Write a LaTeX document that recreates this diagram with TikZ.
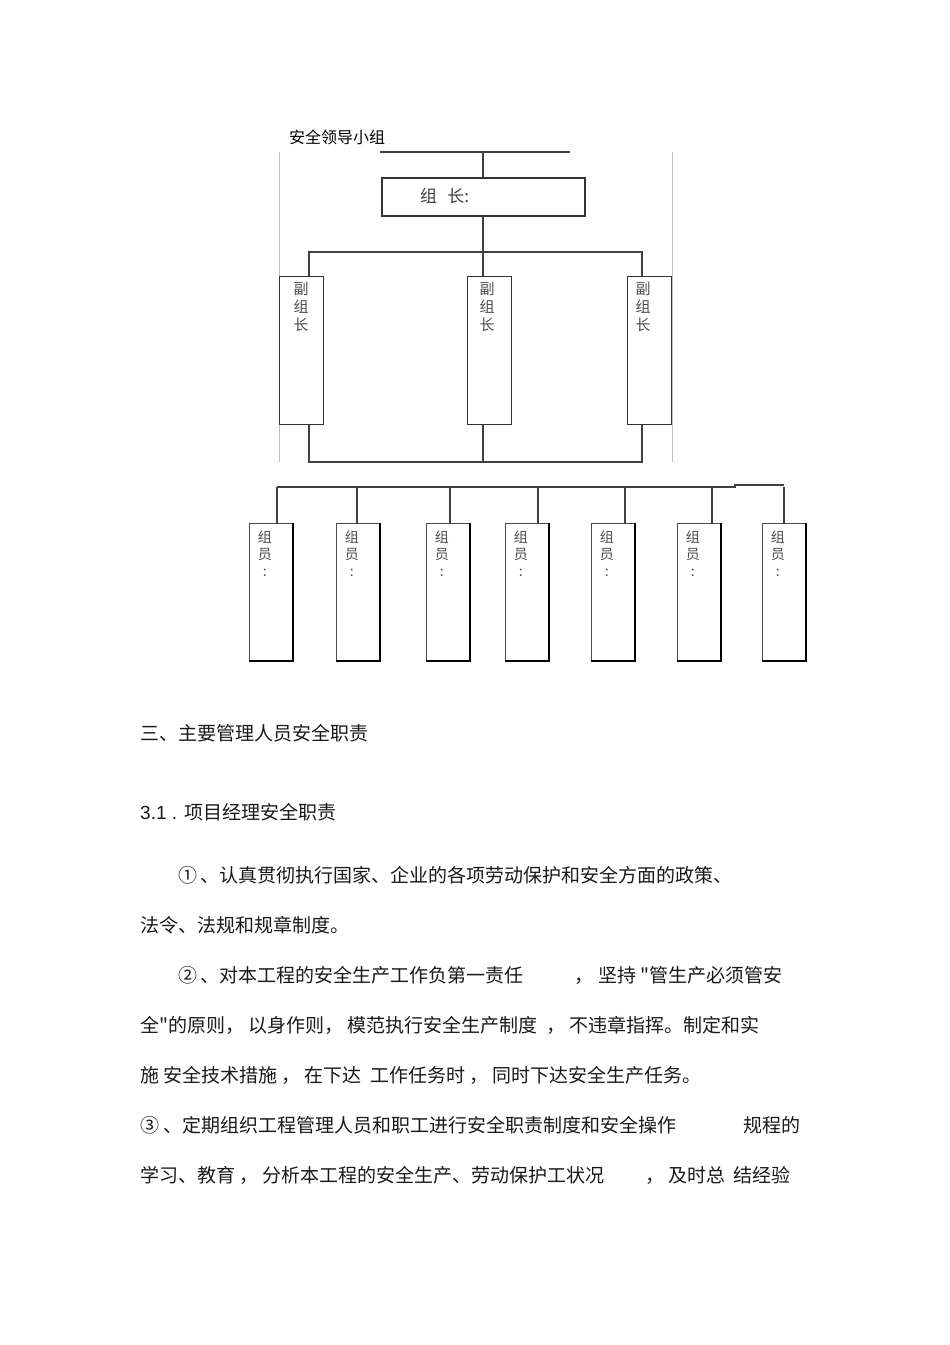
\documentclass[tikz,border=0pt]{standalone}
\usepackage{fontspec}
\setmainfont{Liberation Sans}
\newfontfamily\cjk{Noto Sans CJK SC}[Scale=1]
\begin{document}
\begin{tikzpicture}[x=1pt,y=-1pt,
  ln/.style={line width=1.2pt,black!75},
  frame/.style={line width=0.6pt,black!25},
  bx/.style={draw=black!80,line width=1pt},
  body/.style={anchor=base west,inner sep=0pt,font=\cjk\fontsize{19}{19}\selectfont,text=black!90},
  vlab/.style={anchor=north,inner sep=0pt,align=center,font=\cjk\fontsize{15}{18}\selectfont,text=black!70}]
\useasboundingbox (0,0) rectangle (950,1345);
% title
\node[anchor=base west,inner sep=0pt,font=\cjk\fontsize{16}{16}\selectfont] (title) at (289,143) {安全领导小组};
% frame lines
\draw[frame] (279,152) -- (279,462);
\draw[frame] (672,152) -- (672,462);
% top
\coordinate (tl) at (380,152); \coordinate (tr) at (570,152); \coordinate (tm) at (483,152);
\draw[ln] (tl) -- (tr);
\node[bx,line width=1.6pt,minimum width=203pt,minimum height=38pt,anchor=north west] (lead) at (381,177) {};
\node[anchor=base west,inner sep=0pt,font=\cjk\fontsize{17}{17}\selectfont,text=black!75] at (420,202) {组\hspace{0.6em}长:};
\draw[ln] (tm) -- (lead.north -| tm);
% deputies
\foreach \n/\x in {d1/279,d2/467,d3/627}{
  \node[bx,minimum width=44pt,minimum height=148pt,anchor=north west] (\n) at (\x,276) {};
}
\node[vlab] at (301,282) {副\\组\\长};
\node[vlab] at (487,282) {副\\组\\长};
\node[vlab] at (643,282) {副\\组\\长};
\coordinate (b1) at (309,252); \coordinate (b3) at (642,252);
\draw[ln] (lead.south -| tm) -- (tm |- d2.north);
\draw[ln] (d1.north -| b1) -- (b1) -- (b3) -- (d3.north -| b3);
\coordinate (c1) at (309,462); \coordinate (c3) at (642,462);
\draw[ln] (d1.south -| c1) -- (c1) -- (c3) -- (d3.south -| c3);
\draw[ln] (d2.south -| tm) -- (tm |- c1);
% members
\foreach \n/\x/\cx in {m1/249/277,m2/336/357,m3/426/450,m4/505/538,m5/591/625,m6/677/712,m7/762/784}{
  \node[draw=black!70,line width=0.8pt,minimum width=43pt,minimum height=137pt,anchor=north west] (\n) at (\x,523) {};
  \draw[black,line width=1.6pt] (\n.north east) -- (\n.south east) -- (\n.south west);
  \node[vlab,font=\cjk\fontsize{14}{17}\selectfont] at ([xshift=-6pt,yshift=-8pt]\n.north) {组\\员\\:};
  \coordinate (t\n) at (\cx,487);
  \draw[ln] (t\n) -- (\n.north -| t\n);
}
\coordinate (step) at (735,485);
\draw[ln] (tm1) -- (step |- tm1) -- (step) -- (tm7 |- step);
% text
\node[body] (h1) at (140,740) {三、主要管理人员安全职责};
\node[body] (h2) at (140,819) {\fontspec{Liberation Sans}3.1 . \cjk 项目经理安全职责};
\node[body] (p1) at (178,882) {①\,、认真贯彻执行国家、企业的各项劳动保护和安全方面的政策、};
\node[body] (p2) at (140,932) {法令、法规和规章制度。};
\node[body] (p3a) at (178,982) {②\,、对本工程的安全生产工作负第一责任};
\node[body] (p3b) at (574,982) {，};
\node[body] (p3c) at (598,982) {坚持 "管生产必须管安};
\node[body] (p4) at (140,1032) {全"的原则，\ 以身作则，\ 模范执行安全生产制度\ \ ，\ 不违章指挥。制定和实};
\node[body] (p5) at (140,1082) {施\ 安全技术措施\ ，\ 在下达\ \ 工作任务时\ ，\ 同时下达安全生产任务。};
\node[body] (p6a) at (140,1132) {③\ 、定期组织工程管理人员和职工进行安全职责制度和安全操作};
\node[body] (p6b) at (743,1132) {规程的};
\node[body] (p7a) at (140,1182) {学习、教育\ ，\ 分析本工程的安全生产、劳动保护工状况};
\node[body] (p7b) at (645,1182) {，\ 及时总\ \ 结经验};
\end{tikzpicture}
\end{document}
